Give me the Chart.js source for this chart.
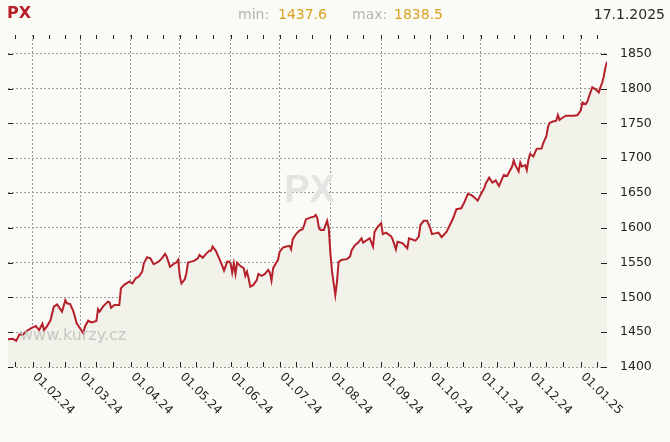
<!DOCTYPE html>
<html>
<head>
<meta charset="utf-8">
<script src="https://cdn.jsdelivr.net/npm/chart.js@4.4.1/dist/chart.umd.min.js"></script>
<style>
    body { margin: 0; background: #fafaf6; }
    #wrap { position: relative; width: 670px; height: 442px; }
    #wrap span { position: absolute; top: 5px; font-family: "DejaVu Sans", Verdana, sans-serif; font-size: 14px; line-height: 18px; white-space: nowrap; }
    .lbl { color: #b4b4b4; }
    .val { color: #d9a21f; }
</style>
</head>
<body>
<div id="wrap">
    <canvas id="myChart" width="670" height="442"></canvas>
    <span id="name" style="left:7px; top:4px; color:#b5202a; font-weight:bold; font-size:16px;"></span>
    <span class="lbl" style="left:238px;">min:</span>
    <span class="val" id="minVal" style="left:278px;"></span>
    <span class="lbl" style="left:352px;">max:</span>
    <span class="val" id="maxVal" style="left:394px;"></span>
    <span id="lastDate" style="right:5px; color:#2a2a2a;"></span>
</div>
<script>
const indexName = 'PX';

const dates = [
    '2024-01-17', '2024-01-20', '2024-01-22', '2024-01-24', '2024-01-26', '2024-01-28', '2024-01-31',
    '2024-02-03', '2024-02-05', '2024-02-07', '2024-02-08', '2024-02-10', '2024-02-12', '2024-02-14', '2024-02-16', '2024-02-19', '2024-02-21', '2024-02-22', '2024-02-24', '2024-02-26', '2024-02-28',
    '2024-03-01', '2024-03-03', '2024-03-04', '2024-03-06', '2024-03-08', '2024-03-11', '2024-03-12', '2024-03-13', '2024-03-15', '2024-03-18', '2024-03-19', '2024-03-20', '2024-03-22', '2024-03-25', '2024-03-26', '2024-03-28', '2024-03-31',
    '2024-04-02', '2024-04-04', '2024-04-06', '2024-04-08', '2024-04-09', '2024-04-11', '2024-04-13', '2024-04-15', '2024-04-18', '2024-04-20', '2024-04-22', '2024-04-23', '2024-04-25', '2024-04-27', '2024-04-29', '2024-04-30',
    '2024-05-01', '2024-05-02', '2024-05-04', '2024-05-05', '2024-05-06', '2024-05-08', '2024-05-10', '2024-05-12', '2024-05-13', '2024-05-15', '2024-05-17', '2024-05-19', '2024-05-20', '2024-05-21', '2024-05-23', '2024-05-25', '2024-05-27', '2024-05-28', '2024-05-30', '2024-05-31',
    '2024-06-01', '2024-06-02', '2024-06-03', '2024-06-04', '2024-06-05', '2024-06-07', '2024-06-09', '2024-06-10', '2024-06-11', '2024-06-12', '2024-06-13', '2024-06-15', '2024-06-17', '2024-06-18', '2024-06-20', '2024-06-22', '2024-06-24', '2024-06-25', '2024-06-26', '2024-06-27', '2024-06-29', '2024-06-30',
    '2024-07-01', '2024-07-03', '2024-07-05', '2024-07-07', '2024-07-08', '2024-07-09', '2024-07-11', '2024-07-13', '2024-07-15', '2024-07-16', '2024-07-17', '2024-07-20', '2024-07-22', '2024-07-23', '2024-07-24', '2024-07-25', '2024-07-26', '2024-07-28', '2024-07-29', '2024-07-30', '2024-07-31',
    '2024-08-01', '2024-08-02', '2024-08-03', '2024-08-04', '2024-08-05', '2024-08-06', '2024-08-08', '2024-08-11', '2024-08-13', '2024-08-14', '2024-08-16', '2024-08-18', '2024-08-20', '2024-08-21', '2024-08-25', '2024-08-27', '2024-08-28', '2024-08-30',
    '2024-09-01', '2024-09-02', '2024-09-04', '2024-09-07', '2024-09-08', '2024-09-10', '2024-09-11', '2024-09-14', '2024-09-17', '2024-09-18', '2024-09-22', '2024-09-24', '2024-09-25', '2024-09-27', '2024-09-29',
    '2024-10-01', '2024-10-02', '2024-10-04', '2024-10-06', '2024-10-08', '2024-10-11', '2024-10-13', '2024-10-15', '2024-10-17', '2024-10-20', '2024-10-22', '2024-10-24', '2024-10-26', '2024-10-28', '2024-10-30',
    '2024-11-01', '2024-11-03', '2024-11-04', '2024-11-06', '2024-11-08', '2024-11-10', '2024-11-12', '2024-11-14', '2024-11-15', '2024-11-17', '2024-11-18', '2024-11-20', '2024-11-21', '2024-11-22', '2024-11-24', '2024-11-25', '2024-11-26', '2024-11-28', '2024-11-29', '2024-11-30',
    '2024-12-01', '2024-12-03', '2024-12-04', '2024-12-05', '2024-12-08', '2024-12-09', '2024-12-11', '2024-12-12', '2024-12-13', '2024-12-15', '2024-12-17', '2024-12-18', '2024-12-19', '2024-12-21', '2024-12-23', '2024-12-25', '2024-12-28', '2024-12-30',
    '2025-01-01', '2025-01-02', '2025-01-04', '2025-01-05', '2025-01-06', '2025-01-08', '2025-01-10', '2025-01-12', '2025-01-13', '2025-01-14', '2025-01-15', '2025-01-16', '2025-01-17'
];

const values = [
    1440, 1440.5, 1437.6, 1447, 1446, 1451, 1455.6,
    1459, 1453, 1462, 1453, 1459, 1467.5, 1486.7, 1490, 1479.5, 1496, 1491.5, 1490.5, 1479.5, 1462.8,
    1455.6, 1448.4, 1458, 1466.6, 1464, 1466, 1483, 1479.5, 1486.7, 1494, 1493, 1485, 1489, 1489, 1513, 1518, 1522.6,
    1520, 1527.5, 1530, 1537, 1549, 1557.7, 1556, 1547.6, 1551.4, 1556, 1562.5, 1558.6, 1544, 1547.6, 1550.5, 1554,
    1530, 1520, 1526, 1534.7, 1550, 1551.4, 1552.8, 1556, 1561, 1557, 1562.5, 1567, 1567, 1573, 1567, 1556, 1545, 1538.5, 1551.4, 1551.4,
    1549, 1535.6, 1549, 1533.7, 1550, 1545, 1542, 1531, 1537, 1527.5, 1515.5, 1518, 1525, 1533.7, 1531, 1533.7, 1539.5, 1535.6, 1524, 1542, 1550, 1554,
    1565.8, 1571.5, 1573, 1574, 1569, 1583.6, 1591, 1596, 1598, 1604, 1612, 1615, 1616, 1618.5, 1614, 1599.4, 1597, 1597, 1604, 1610, 1599,
    1563, 1537, 1520, 1503.5, 1522, 1551, 1554, 1555, 1558.6, 1568, 1575, 1578.7, 1585, 1578.7, 1585, 1573, 1594.5, 1601.7,
    1606.6, 1591, 1593, 1588, 1583.6, 1569, 1580, 1578, 1570.6, 1585, 1581.6, 1587.3, 1604, 1610, 1610,
    1599.4, 1591, 1592, 1593, 1586.5, 1594.5, 1604, 1613.7, 1626.7, 1628, 1637.6, 1648.7, 1647.3, 1643.4, 1639,
    1648.7, 1657, 1664, 1672, 1665, 1668, 1660, 1671, 1676, 1674.6, 1679, 1688, 1696.6, 1690, 1681, 1693.7, 1688, 1690, 1683, 1697.6,
    1706, 1702.4, 1708, 1713.4, 1714, 1721.5, 1732, 1745.5, 1751, 1752.7, 1754, 1762, 1755, 1758.5, 1761, 1761, 1761, 1762,
    1768.7, 1780, 1777.7, 1781.5, 1788.6, 1802, 1799, 1794.6, 1802, 1808, 1817.4, 1830, 1838.5
];

const monthTicks = ['2024-02-01', '2024-03-01', '2024-04-01', '2024-05-01', '2024-06-01', '2024-07-01',
    '2024-08-01', '2024-09-01', '2024-10-01', '2024-11-01', '2024-12-01', '2025-01-01'];
const monthLabels = ['01.02.24', '01.03.24', '01.04.24', '01.05.24', '01.06.24', '01.07.24',
    '01.08.24', '01.09.24', '01.10.24', '01.11.24', '01.12.24', '01.01.25'];
const yTicks = [1400, 1450, 1500, 1550, 1600, 1650, 1700, 1750, 1800, 1850];

// days since 1.1.2024, used as x value
const dayNo = s => (Date.parse(s) - Date.parse('2024-01-01')) / 864e5;

const points = dates.map((d, i) => ({ x: dayNo(d), y: values[i] }));
const monthDays = monthTicks.map(dayNo);

// header texts
const last = dates[dates.length - 1].split('-');
document.getElementById('name').textContent = indexName;
document.getElementById('minVal').textContent = Math.min(...values).toFixed(1);
document.getElementById('maxVal').textContent = Math.max(...values).toFixed(1);
document.getElementById('lastDate').textContent = +last[2] + '.' + +last[1] + '.' + last[0];

const FONT = '"DejaVu Sans", Verdana, sans-serif';
Chart.defaults.font.family = FONT;

const decor = {
    id: 'decor',
    beforeDatasetsDraw(chart) {
        const { ctx, chartArea: a } = chart;
        ctx.save();
        ctx.font = 'bold 38px "Liberation Sans", Arial, sans-serif';
        ctx.fillStyle = '#e4e4e2';
        ctx.textAlign = 'center';
        ctx.textBaseline = 'middle';
        ctx.fillText(indexName, (a.left + a.right) / 2 + 2, 192);
        ctx.restore();
    },
    afterDatasetsDraw(chart) {
        const { ctx, chartArea: a } = chart;
        ctx.save();
        ctx.font = '16px ' + FONT;
        ctx.fillStyle = 'rgba(190,190,188,0.85)';
        ctx.textBaseline = 'alphabetic';
        ctx.fillText('www.kurzy.cz', a.left + 12, a.bottom - 27);
        ctx.restore();
    },
    afterDraw(chart) {
        const { ctx, chartArea: a, scales: { x, y } } = chart;
        ctx.save();
        ctx.strokeStyle = '#222';
        ctx.lineWidth = 1;
        ctx.beginPath();
        // y tick marks inside both edges
        yTicks.forEach(v => {
            const py = Math.round(y.getPixelForValue(v)) + 0.5;
            ctx.moveTo(a.left, py); ctx.lineTo(a.left + 5, py);
            ctx.moveTo(a.right - 6, py); ctx.lineTo(a.right, py);
        });
        // x tick marks on 1st, 11th and 21st of each month, top and bottom
        for (let m = 0; m < 13; m++) {
            [1, 11, 21].forEach(day => {
                const d = dayNo(new Date(Date.UTC(2024, m, day)).toISOString().slice(0, 10));
                if (d < x.min || d > x.max) return;
                const px = Math.round(x.getPixelForValue(d)) + 0.5;
                ctx.moveTo(px, a.top); ctx.lineTo(px, a.top + 4);
                ctx.moveTo(px, a.bottom - 5); ctx.lineTo(px, a.bottom);
            });
        }
        ctx.stroke();

        // rotated month labels
        ctx.fillStyle = '#222';
        ctx.font = '12px ' + FONT;
        ctx.textAlign = 'left';
        ctx.textBaseline = 'middle';
        monthDays.forEach((d, i) => {
            const px = x.getPixelForValue(d);
            ctx.save();
            ctx.translate(px + 2, a.bottom + 8);
            ctx.rotate(Math.PI / 4);
            ctx.fillText(monthLabels[i], 0, 0);
            ctx.restore();
        });
        ctx.restore();
    }
};

const ctx = document.getElementById('myChart');

const myChart = new Chart(ctx, { // eslint-disable-line
    type: 'line',
    data: {
        datasets: [
            {
                label: indexName,
                data: points,
                borderColor: '#b5202a',
                borderWidth: 2,
                backgroundColor: '#f2f2ea',
                fill: 'start',
                pointRadius: 0,
                tension: 0
            }
        ]
    },
    options: {
        responsive: false,
        animation: false,
        layout: { padding: { left: 8, top: 35, bottom: 75, right: 0 } },
        plugins: {
            legend: { display: false },
            tooltip: { enabled: false }
        },
        scales: {
            x: {
                type: 'linear',
                min: dayNo(dates[0]),
                max: dayNo(dates[dates.length - 1]),
                afterBuildTicks: s => { s.ticks = monthDays.map(v => ({ value: v })); },
                ticks: { display: false },
                grid: { color: '#9a9a9a', drawTicks: false },
                border: { display: false, dash: [2, 2] }
            },
            y: {
                position: 'right',
                min: 1400,
                max: 1877,
                afterBuildTicks: s => { s.ticks = yTicks.map(v => ({ value: v })); },
                afterFit: s => { s.width = 63; },
                ticks: {
                    color: '#222',
                    padding: 13,
                    font: { size: 12.5 },
                    callback: v => String(v)
                },
                grid: { color: '#9a9a9a', drawTicks: false },
                border: { display: false, dash: [2, 2] }
            }
        }
    },
    plugins: [decor]
});
</script>
</body>
</html>
